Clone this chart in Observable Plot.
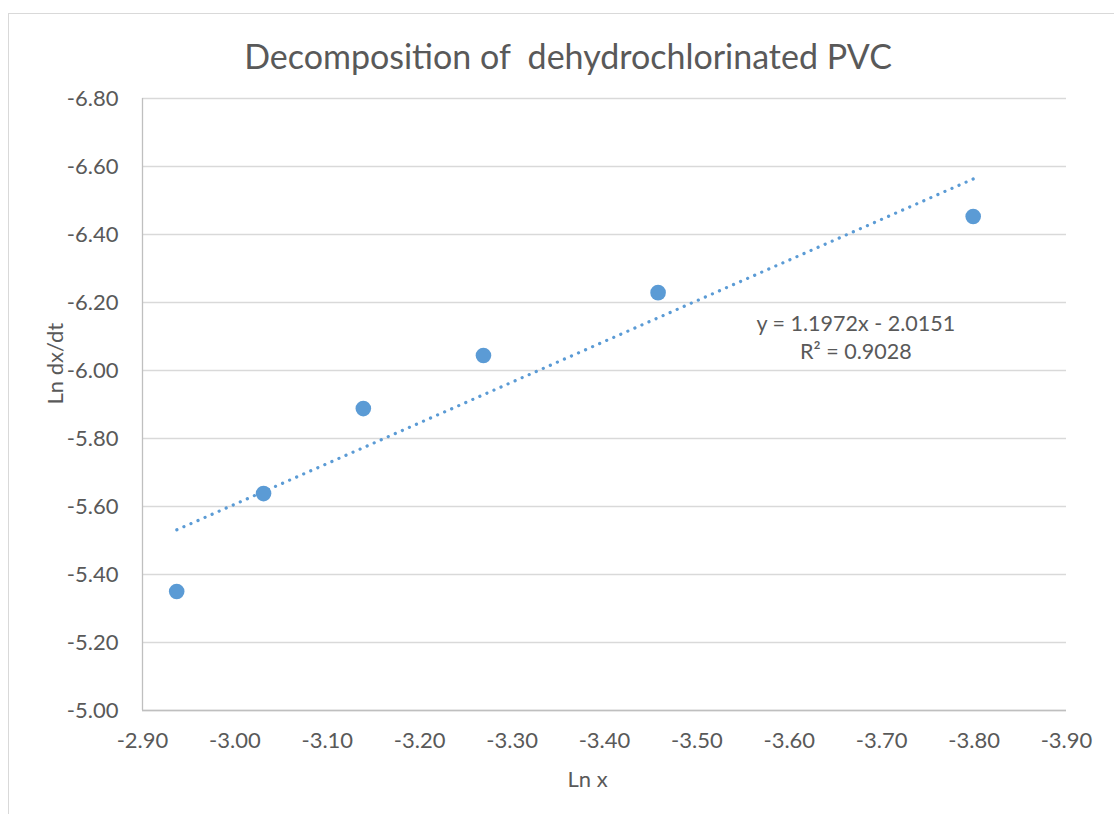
<!DOCTYPE html>
<html>
<head>
<meta charset="utf-8">
<script src="https://cdn.jsdelivr.net/npm/d3@7"></script>
<script src="https://cdn.jsdelivr.net/npm/@observablehq/plot@0.6"></script>
<style>
  html, body { margin: 0; padding: 0; background: #fff; }
  #wrap { position: relative; width: 1114px; height: 814px; overflow: hidden; font-family: Lato, "Open Sans", sans-serif; }
  #frame { position: absolute; left: 8px; top: 13px; width: 1200px; height: 900px; border-top: 1.5px solid #d9d9d9; border-left: 1.5px solid #d9d9d9; }
  #title { position: absolute; top: 39px; left: 568px; transform: translateX(-50%); white-space: pre; font-size: 34px; color: #595959; line-height: 1; }
  #chart { position: absolute; left: 0; top: 0; }
</style>
</head>
<body>
<div id="wrap">
  <div id="frame"></div>
  <div id="chart"></div>
  <div id="title">Decomposition of  dehydrochlorinated PVC</div>
</div>
<script>
// Data
const lnX = [-2.937, -3.031, -3.139, -3.269, -3.458, -3.799];
const lnDxDt = [-5.35, -5.638, -5.888, -6.044, -6.229, -6.453];
const xTicks = [-2.9, -3.0, -3.1, -3.2, -3.3, -3.4, -3.5, -3.6, -3.7, -3.8, -3.9];
const yTicks = [-6.8, -6.6, -6.4, -6.2, -6.0, -5.8, -5.6, -5.4, -5.2, -5.0];
const slope = 1.1972;
const intercept = -2.0151;
const eqLabel = "y = 1.1972x - 2.0151\nR² = 0.9028";
const eqPos = [-3.672, -6.1];

const points = lnX.map((x, i) => ({x, y: lnDxDt[i]}));
const xExt = d3.extent(lnX);
const trend = xExt.map(x => ({x, y: slope * x + intercept}));

const blue = "#5b9bd5";
const textColor = "#595959";

const chart = Plot.plot({
  width: 1114,
  height: 814,
  marginLeft: 142,
  marginRight: 48,
  marginTop: 98,
  marginBottom: 104,
  style: {fontFamily: "Lato, 'Open Sans', sans-serif", fontSize: "22px", color: textColor, background: "transparent"},
  x: {domain: [-2.9, -3.9]},
  y: {domain: [-5.0, -6.8]},
  marks: [
    Plot.ruleY(yTicks, {stroke: "#d9d9d9", strokeWidth: 1.3}),
    Plot.ruleX([-2.9], {stroke: "#bfbfbf", strokeWidth: 1.3}),
    Plot.ruleY([-5.0], {stroke: "#bfbfbf", strokeWidth: 1.3}),
    Plot.axisY({ticks: yTicks, tickFormat: d => d.toFixed(2), tickSize: 0, tickPadding: 24, label: null, fill: textColor}),
    Plot.axisX({ticks: xTicks, tickFormat: d => d.toFixed(2), tickSize: 0, tickPadding: 22, label: null, fill: textColor}),
    Plot.line(trend, {x: "x", y: "y", stroke: blue, strokeWidth: 3.2, strokeLinecap: "round", strokeDasharray: "0.1 7.6"}),
    Plot.dot(points, {x: "x", y: "y", r: 7.8, fill: blue, stroke: "none"}),
    Plot.text([eqLabel], {x: () => eqPos[0], y: () => eqPos[1], text: d => d, fill: textColor, fontSize: 21.5, lineHeight: 1.3, textAnchor: "middle"}),
    Plot.text(["Ln x"], {frameAnchor: "bottom", text: d => d, dy: 76, dx: -17, fill: textColor, fontSize: 22}),
    Plot.text(["Ln dx/dt"], {frameAnchor: "left", text: d => d, dx: -87, rotate: -90, fill: textColor, fontSize: 22})
  ]
});
document.getElementById("chart").appendChild(chart);
</script>
</body>
</html>
